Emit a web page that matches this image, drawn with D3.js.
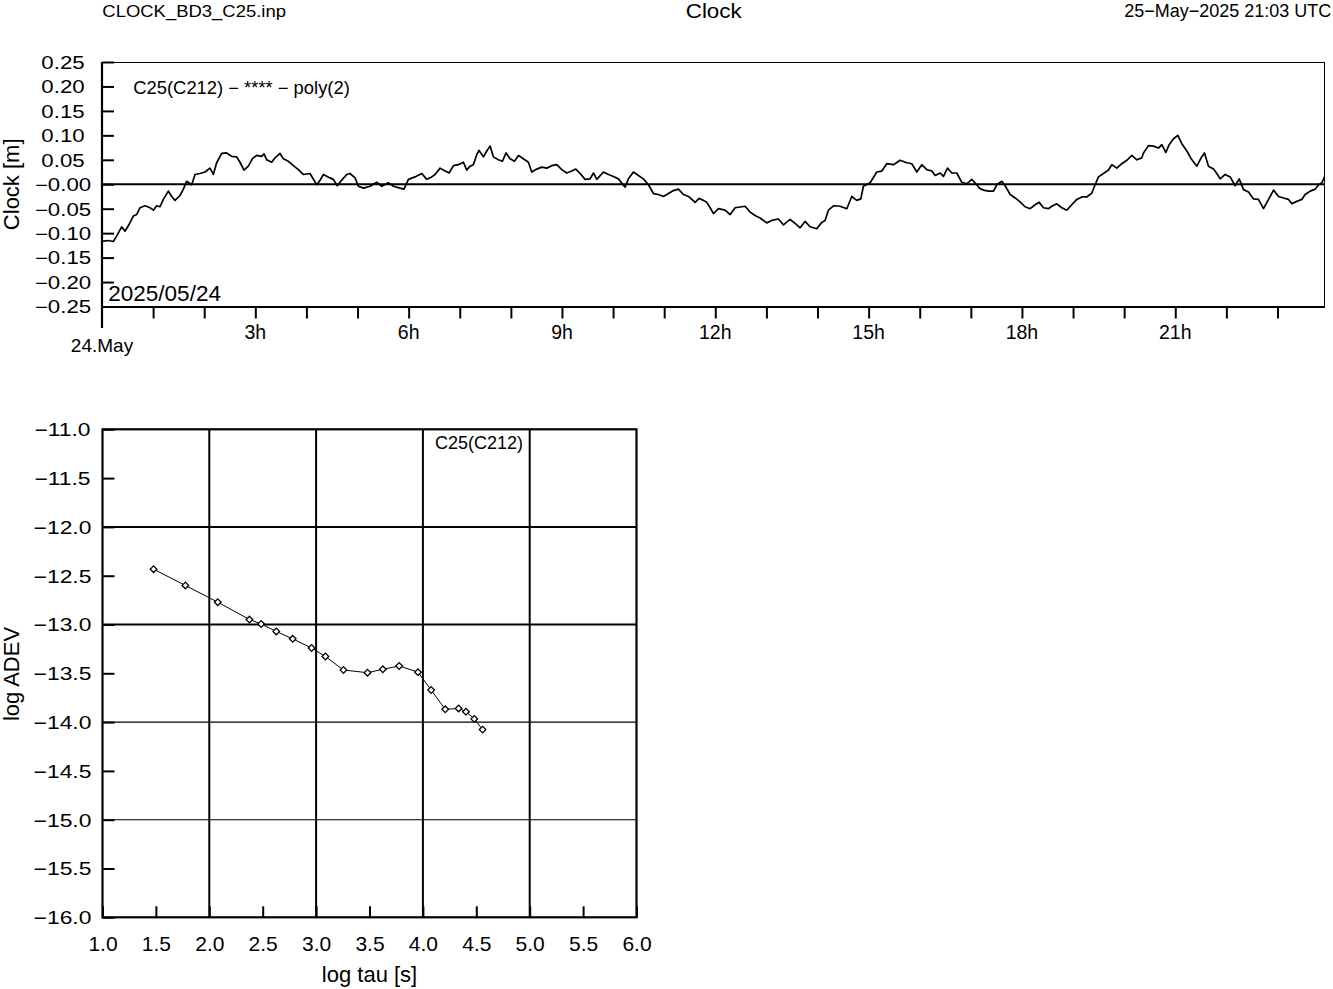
<!DOCTYPE html>
<html><head><meta charset="utf-8">
<script src="https://cdn.jsdelivr.net/npm/d3@7"></script>
<style>
body{margin:0;background:#fff}
svg{display:block}
text{font-family:"Liberation Sans",Arial,Helvetica,sans-serif;fill:#000}
</style></head><body>
<svg id="c" width="1333" height="989"></svg>
<script>
// ---------- DATA ----------
// Clock residuals, time in minutes since 2025/05/24 00:00, value in metres
const clockMinutes = [
0,7.3,13.3,17.2,23.1,27.0,30.9,36.8,40.7,44.6,50.5,56.4,60.3,64.2,68.1,72.0,77.9,81.8,85.7,91.6,95.5,99.4,105.3,109.2,115.1,120.9,126.8,130.7,134.6,140.5,146.4,152.3,158.1,162.0,166.7,171.8,176.9,181.6,187.5,190.2,193.4,199.2,203.1,209.0,212.9,218.8,224.7,230.5,236.4,244.2,252.1,256.0,259.9,267.7,271.6,276.3,280.2,287.3,291.2,297.1,301.0,306.9,314.7,322.5,328.4,336.2,342.1,349.9,354.6,359.7,
367.5,375.4,381.2,387.1,391.0,396.9,402.8,407.5,412.6,418.4,424.3,428.2,432.1,436.0,440.0,442.7,447.8,451.7,455.6,459.5,465.4,470.1,474.4,479.1,484.2,488.9,494.7,500.6,504.5,510.4,516.3,522.1,528.0,533.9,539.8,545.6,551.5,556.2,561.3,567.2,573.0,577.0,580.9,588.7,594.6,600.4,606.3,614.1,618.0,623.9,629.8,635.6,641.5,647.4,653.3,659.1,665.0,670.9,676.7,682.6,688.5,696.3,701.0,706.1,710.0,713.9,717.9,
723.7,731.5,737.4,743.3,751.1,755.0,760.9,766.7,772.6,780.4,786.3,794.1,800.0,807.8,813.7,819.6,825.4,831.3,839.1,845.0,848.9,852.8,858.7,866.5,874.4,880.2,886.1,890.8,893.9,901.8,909.6,915.5,921.3,929.2,937.0,944.8,950.7,956.6,962.4,968.3,974.2,978.1,984.0,987.9,992.6,997.7,1003.5,1009.4,1015.3,1021.1,1027.0,1030.2,1034.8,1040.7,1046.6,1050.5,1056.4,1060.3,1066.2,1072.0,1077.1,
1083.7,1089.6,1095.5,1100.2,1105.3,1111.1,1115.1,1120.9,1126.8,1132.7,1138.5,1144.4,1150.3,1156.2,1162.0,1165.9,1169.9,1175.7,1181.6,1185.5,1191.4,1197.2,1203.1,1209.0,1214.9,1220.7,1222.7,1228.6,1234.4,1240.3,1244.2,1248.9,1252.8,1257.9,1263.0,1267.7,1273.6,1278.7,1285.3,1290.4,1294.3,1299.0,1304.9,1308.8,1312.7,1318.6,1324.5,1330.3,1335.0,1340.1,1346.0,1351.9,1357.7,1363.6,1369.5,1375.4,1381.2,1387.1,1393.0,1396.9,1402.7,1408.6,1412.5,1418.4,1424.3,1428.2,1432.1,1435.2
];
const clockValues = [
-0.117,-0.115,-0.117,-0.106,-0.087,-0.096,-0.085,-0.065,-0.062,-0.048,-0.044,-0.048,-0.053,-0.044,-0.046,-0.031,-0.014,-0.025,-0.033,-0.023,-0.010,0.006,-0.001,0.020,0.022,0.025,0.033,0.020,0.044,0.063,0.064,0.057,0.056,0.045,0.029,0.037,0.053,0.059,0.057,0.062,0.050,0.045,0.054,0.063,0.052,0.047,0.038,0.030,0.020,0.022,-0.001,0.008,0.020,0.013,0.010,-0.003,0.006,0.020,0.022,0.013,-0.004,-0.008,-0.004,0.004,-0.004,0.003,-0.004,-0.008,-0.010,0.010,
0.015,0.022,0.010,0.015,0.020,0.033,0.027,0.023,0.038,0.040,0.045,0.029,0.037,0.040,0.061,0.069,0.056,0.068,0.078,0.056,0.050,0.047,0.064,0.052,0.047,0.059,0.052,0.045,0.025,0.031,0.035,0.033,0.038,0.040,0.030,0.023,0.027,0.031,0.022,0.010,0.011,0.023,0.010,0.025,0.020,0.016,0.011,-0.006,0.011,0.025,0.018,0.011,-0.001,-0.019,-0.021,-0.025,-0.019,-0.013,-0.010,-0.021,-0.025,-0.037,-0.029,-0.033,-0.037,-0.048,-0.060,
-0.050,-0.053,-0.062,-0.048,-0.046,-0.045,-0.057,-0.064,-0.069,-0.079,-0.074,-0.071,-0.083,-0.072,-0.080,-0.089,-0.076,-0.087,-0.091,-0.078,-0.074,-0.053,-0.044,-0.045,-0.050,-0.025,-0.033,-0.030,-0.004,0.003,0.025,0.027,0.042,0.040,0.049,0.044,0.042,0.025,0.040,0.030,0.027,0.018,0.023,0.016,0.033,0.023,0.023,0.004,0.001,0.010,-0.001,-0.008,-0.012,-0.014,-0.014,-0.001,0.006,-0.003,-0.021,-0.028,-0.035,
-0.046,-0.050,-0.042,-0.037,-0.048,-0.050,-0.045,-0.040,-0.048,-0.053,-0.042,-0.031,-0.026,-0.026,-0.018,-0.001,0.015,0.022,0.029,0.040,0.033,0.042,0.049,0.059,0.050,0.054,0.064,0.079,0.078,0.074,0.081,0.065,0.081,0.093,0.100,0.083,0.068,0.052,0.037,0.054,0.064,0.037,0.031,0.022,0.011,0.020,0.015,-0.003,0.011,-0.011,-0.016,-0.030,-0.031,-0.050,-0.031,-0.012,-0.025,-0.028,-0.031,-0.040,-0.035,-0.031,-0.021,-0.014,-0.010,-0.001,0.003,0.015
];
const clockTimeDomain = [0, 1435.2];          // minutes shown on the x axis
const hourTicks = [0,1,2,3,4,5,6,7,8,9,10,11,12,13,14,15,16,17,18,19,20,21,22,23];
const hourLabels = [3,6,9,12,15,18,21];
const clockYTicks = [0.25,0.20,0.15,0.10,0.05,0,-0.05,-0.10,-0.15,-0.20,-0.25];
const clockYLabels = ["0.25","0.20","0.15","0.10","0.05","\u22120.00","\u22120.05","\u22120.10","\u22120.15","\u22120.20","\u22120.25"];

// Allan deviation
const logTau  = [1.478,1.776,2.079,2.376,2.486,2.627,2.781,2.958,3.087,3.256,3.481,3.625,3.778,3.954,4.077,4.209,4.334,4.403,4.481,4.559];
const logAdev = [-12.433,-12.600,-12.771,-12.949,-12.995,-13.071,-13.147,-13.241,-13.328,-13.466,-13.494,-13.459,-13.425,-13.488,-13.671,-13.869,-13.860,-13.893,-13.967,-14.077];
const tauTicks  = [1.0,1.5,2.0,2.5,3.0,3.5,4.0,4.5,5.0,5.5,6.0];
const adevTicks = [-11.0,-11.5,-12.0,-12.5,-13.0,-13.5,-14.0,-14.5,-15.0,-15.5,-16.0];
const tauGrid  = [2,3,4,5];
const adevGrid = [-12,-13,-14,-15];

// ---------- DRAWING ----------
const svg = d3.select("#c");

function txt(x, y, s, o) {
  o = o || {};
  let tr = `translate(${x},${y})`;
  if (o.rot) tr += ` rotate(${o.rot})`;
  if (o.sx && o.sx !== 1) tr += ` scale(${o.sx},1)`;
  return svg.append("text").attr("transform", tr)
    .attr("text-anchor", o.anchor || "start")
    .style("font-size", (o.size || 18) + "px")
    .text(s);
}

// Header
txt(102.3, 16.7, "CLOCK_BD3_C25.inp", {size:16.5, sx:1.12});
txt(713.7, 18.2, "Clock", {size:20, sx:1.12, anchor:"middle"});
txt(1331.3, 16.7, "25\u2212May\u22122025 21:03 UTC", {size:18, anchor:"end"});

// ===== Top plot =====
const T = {l:102, r:1324.5, t:62, b:306.5};
const xh = d3.scaleLinear().domain(clockTimeDomain.map(m => m/60)).range([T.l, T.r]);
const yc = d3.scaleLinear().domain([-0.25, 0.25]).range([T.b, T.t]);

const gTop = svg.append("g");
// thin top & right border
gTop.append("line").attr("x1",T.l).attr("x2",T.r).attr("y1",T.t+0.5).attr("y2",T.t+0.5)
  .attr("stroke","#000").attr("stroke-width",1);
gTop.append("line").attr("x1",T.r).attr("x2",T.r).attr("y1",T.t).attr("y2",T.b)
  .attr("stroke","#000").attr("stroke-width",1);

// bottom axis with hour ticks
const axB = gTop.append("g").attr("transform",`translate(0,${T.b})`)
  .call(d3.axisBottom(xh).tickValues(hourTicks.slice(1)).tickSize(12).tickSizeOuter(0).tickFormat(""));
axB.select(".domain").attr("stroke-width",2.2);
axB.selectAll(".tick line").attr("stroke-width",2);
hourLabels.forEach(h => txt(xh(h), 339, h + "h", {size:19.5, anchor:"middle"}));
txt(xh(0), 352.3, "24.May", {size:19, anchor:"middle"});

// left axis
const axL = gTop.append("g").attr("transform",`translate(${T.l},0)`)
  .call(d3.axisLeft(yc).tickValues(clockYTicks).tickSize(-12).tickSizeOuter(0)
    .tickFormat((d,i) => clockYLabels[i]));
axL.select(".domain").remove();
axL.selectAll(".tick line").attr("stroke-width",2);
axL.selectAll(".tick text")
  .attr("x",null).attr("dy","0.36em")
  .attr("text-anchor","middle")
  .attr("transform","translate(-39,0) scale(1.27,1)")
  .style("font-size","17.5px").style("font-family",'"Liberation Sans",Arial,sans-serif');
// left axis line, extended below as day marker
gTop.append("line").attr("x1",T.l).attr("x2",T.l).attr("y1",T.t).attr("y2",328)
  .attr("stroke","#000").attr("stroke-width",2.2);

// zero line
gTop.append("line").attr("x1",T.l).attr("x2",T.r).attr("y1",yc(0)).attr("y2",yc(0))
  .attr("stroke","#000").attr("stroke-width",2.2);

// clock curve
const clockData = clockMinutes.map((m,i) => [m/60, clockValues[i]]);
gTop.append("path").datum(clockData)
  .attr("d", d3.line().x(d => xh(d[0])).y(d => yc(d[1])))
  .attr("fill","none").attr("stroke","#000").attr("stroke-width",1.7)
  .attr("stroke-linejoin","round");

txt(133.3, 94, "C25(C212) \u2212 **** \u2212 poly(2)", {size:17.5, sx:1.05});
txt(108.3, 300.7, "2025/05/24", {size:22.5});
txt(18.5, 184.3, "Clock [m]", {size:22, rot:-90, anchor:"middle"});

// ===== Bottom plot =====
const B = {l:102.5, r:636.5, t:429.3, b:917.3};
const xt = d3.scaleLinear().domain([1, 6]).range([B.l, B.r]);
const ya = d3.scaleLinear().domain([-16, -11]).range([B.b, B.t]);
const gB = svg.append("g");

// grid
tauGrid.forEach(v => gB.append("line").attr("x1",xt(v)).attr("x2",xt(v)).attr("y1",B.t).attr("y2",B.b)
  .attr("stroke","#000").attr("stroke-width",2));
adevGrid.forEach(v => gB.append("line").attr("x1",B.l).attr("x2",B.r).attr("y1",ya(v)).attr("y2",ya(v))
  .attr("stroke","#000").attr("stroke-width", v >= -13 ? 2 : 1.1));

// axes
const axBX = gB.append("g").attr("transform",`translate(0,${B.b})`)
  .call(d3.axisBottom(xt).tickValues(tauTicks).tickSize(-11).tickSizeOuter(0).tickFormat(d3.format(".1f")));
axBX.select(".domain").remove();
axBX.selectAll(".tick line").attr("stroke-width",2);
axBX.selectAll(".tick text").attr("y",33.4).attr("dy",null)
  .style("font-size","21px").style("font-family",'"Liberation Sans",Arial,sans-serif');

const axBY = gB.append("g").attr("transform",`translate(${B.l},0)`)
  .call(d3.axisLeft(ya).tickValues(adevTicks).tickSize(-12).tickSizeOuter(0).tickFormat(d3.format(".1f")));
axBY.select(".domain").remove();
axBY.selectAll(".tick line").attr("stroke-width",2);
axBY.selectAll(".tick text")
  .attr("x",null).attr("dy","0.36em")
  .attr("text-anchor","middle")
  .attr("transform","translate(-40,0) scale(1.27,1)")
  .style("font-size","18px").style("font-family",'"Liberation Sans",Arial,sans-serif');

// frame
gB.append("rect").attr("x",B.l).attr("y",B.t).attr("width",B.r-B.l).attr("height",B.b-B.t)
  .attr("fill","none").attr("stroke","#000").attr("stroke-width",2.2);

// ADEV line + markers
const adevData = logTau.map((t,i) => [t, logAdev[i]]);
gB.append("path").datum(adevData)
  .attr("d", d3.line().x(d => xt(d[0])).y(d => ya(d[1])))
  .attr("fill","none").attr("stroke","#000").attr("stroke-width",1);
gB.selectAll("path.mk").data(adevData).join("path").attr("class","mk")
  .attr("d", d3.symbol().type(d3.symbolSquare).size(22))
  .attr("transform", d => `translate(${xt(d[0])},${ya(d[1])}) rotate(45)`)
  .attr("fill","#fff").attr("stroke","#000").attr("stroke-width",1.3);

txt(435, 449.3, "C25(C212)", {size:18});
txt(18.5, 674, "log ADEV", {size:22, rot:-90, anchor:"middle"});
txt(369.5, 981.5, "log tau [s]", {size:22, anchor:"middle"});
</script>
</body></html>
